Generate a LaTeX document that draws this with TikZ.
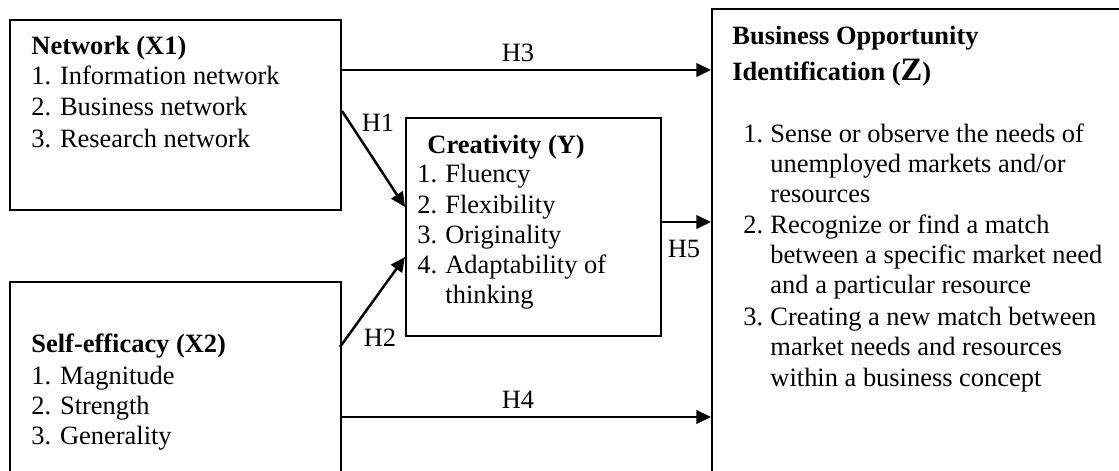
\documentclass[tikz,border=0pt]{standalone}
\usepackage{fontspec}
\setmainfont{Liberation Serif}
\usetikzlibrary{arrows.meta,calc,fit}
\begin{document}
\begin{tikzpicture}[x=0.4444pt,y=-0.4444pt,
  font=\fontsize{11.75}{14}\selectfont,
  box/.style={draw, line width=0.9pt, inner sep=0pt},
  txt/.style={anchor=base west, inner sep=0pt},
  lbl/.style={anchor=base, inner sep=0pt},
  arr/.style={line width=1.1pt, -{Triangle[length=6.5pt,width=6pt]}}]
\useasboundingbox (0,0) rectangle (1119,470);
\clip (0,0) rectangle (1119,470);
% boxes
\node[box, fit={(10,20) (341,210)}] (X1) {};
\node[box, fit={(10,282) (341,490)}] (X2) {};
\node[box, fit={(406,118) (661,336)}] (Y) {};
\node[box, fit={(712,9) (1140,490)}] (Z) {};
% X1 text
\node[txt] (x1h) at (31,54) {\textbf{Network (X1)}};
\node[txt] (x1a) at (31,84) {1. Information network};
\node[txt] (x1b) at (31,115) {2. Business network};
\node[txt] (x1c) at (31,147) {3. Research network};
% X2 text
\node[txt] (x2h) at (31,352) {\textbf{Self-efficacy (X2)}};
\node[txt] (x2a) at (31,384) {1. Magnitude};
\node[txt] (x2b) at (31,414) {2. Strength};
\node[txt] (x2c) at (31,444) {3. Generality};
% Y text
\node[txt] (yh) at (427,153) {\textbf{Creativity (Y)}};
\node[txt] (ya) at (417,182) {\makebox[12.4pt][l]{1.}Fluency};
\node[txt] (yb) at (417,213) {\makebox[12.4pt][l]{2.}Flexibility};
\node[txt] (yc) at (417,243) {\makebox[12.4pt][l]{3.}Originality};
\node[txt] (yd) at (417,273) {\makebox[12.4pt][l]{4.}Adaptability of};
\node[txt] (ye) at (445,303) {thinking};
% Z text
\node[txt] (zh1) at (732,44) {\textbf{Business Opportunity}};
\node[txt] (zh2) at (732,80) {\textbf{Identification (}{\fontsize{14.5}{16}\selectfont\textbf{Z}}\textbf{)}};
\node[txt] (z1a) at (743,142) {\makebox[12pt][l]{1.}Sense or observe the needs of};
\node[txt] (z1b) at (770,172) {unemployed markets and/or};
\node[txt] (z1c) at (770,202) {resources};
\node[txt] (z2a) at (743,233) {\makebox[12pt][l]{2.}Recognize or find a match};
\node[txt] (z2b) at (770,263) {between a specific market need};
\node[txt] (z2c) at (770,293) {and a particular resource};
\node[txt] (z3a) at (743,325) {\makebox[12pt][l]{3.}Creating a new match between};
\node[txt] (z3b) at (770,355) {market needs and resources};
\node[txt] (z3c) at (770,386) {within a business concept};
% connectors
\coordinate (h3s) at ($(X1.north east)+(0,51)$);
\draw[arr] (h3s) -- (h3s -| Z.west);
\node[lbl] (H3) at (518,61) {H3};
\coordinate (h1s) at ($(X1.north east)+(0,92)$);
\coordinate (h1e) at ($(Y.north west)+(0,90)$);
\draw[arr] (h1s) -- (h1e);
\node[lbl] (H1) at (378,131) {H1};
\coordinate (h2s) at ($(X2.north west)+(331,66)$);
\coordinate (h2e) at ($(Y.north west)+(0,140)$);
\draw[arr] (h2s) -- (h2e);
\node[lbl] (H2) at (380,346) {H2};
\coordinate (h4s) at ($(X2.north west)+(331,136)$);
\draw[arr] (h4s) -- (h4s -| Z.west);
\node[lbl] (H4) at (518,408) {H4};
\coordinate (h5s) at ($(Y.north east)+(0,105)$);
\draw[arr] (h5s) -- (h5s -| Z.west);
\node[lbl] (H5) at (684,257) {H5};
\end{tikzpicture}
\end{document}
